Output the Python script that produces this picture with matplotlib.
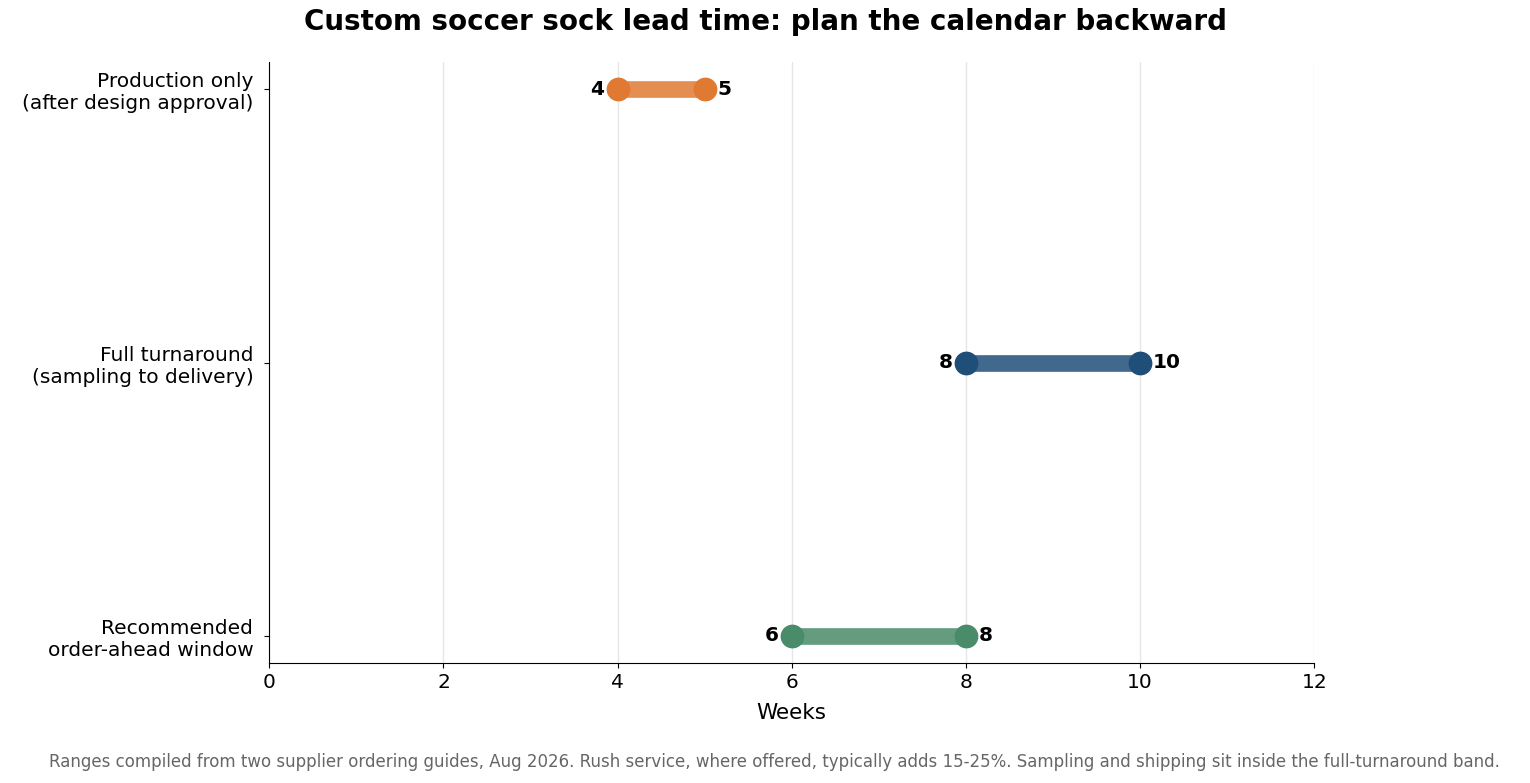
import matplotlib
matplotlib.use("Agg")
import matplotlib.pyplot as plt

categories = ["Production only\n(after design approval)",
              "Full turnaround\n(sampling to delivery)",
              "Recommended\norder-ahead window"]
starts = [4, 8, 6]
ends = [5, 10, 8]
colors = ["#E07A32", "#1F4E79", "#4A8B6A"]
xticks = [0, 2, 4, 6, 8, 10, 12]

fig = plt.figure(figsize=(15.3, 7.83), dpi=100)
ax = fig.add_axes([0.176, 0.153, 0.683, 0.768])
ypos = [2, 1, 0]
for y, s, e, c in zip(ypos, starts, ends, colors):
    ax.plot([s, e], [y, y], color=c, lw=12, alpha=0.85, solid_capstyle="butt", zorder=2)
    ax.scatter([s, e], [y, y], s=260, color=c, zorder=3)
    ax.text(s - 0.15, y, f"{s}", ha="right", va="center", fontsize=14.5, fontweight="bold")
    ax.text(e + 0.15, y, f"{e}", ha="left", va="center", fontsize=14.5, fontweight="bold")

ax.set_xlim(0, 12)
ax.set_ylim(-0.1, 2.1)
ax.set_xticks(xticks)
ax.set_yticks(ypos)
ax.set_yticklabels(categories, fontsize=14.5)
ax.tick_params(axis="x", labelsize=14.5)
ax.tick_params(axis="y", pad=8)
ax.grid(axis="x", color="#e6e6e6", lw=1)
ax.set_axisbelow(True)
for sp in ["top", "right"]:
    ax.spines[sp].set_visible(False)
ax.set_xlabel("Weeks", fontsize=15.5, labelpad=8)
fig.suptitle("Custom soccer sock lead time: plan the calendar backward",
             fontsize=20, fontweight="bold", y=0.99)
fig.text(0.506, 0.02, "Ranges compiled from two supplier ordering guides, Aug 2026. Rush service, where offered, typically adds 15-25%. Sampling and shipping sit inside the full-turnaround band.",
         ha="center", fontsize=12, color="#666666")
fig.savefig("out.png", dpi=100)
